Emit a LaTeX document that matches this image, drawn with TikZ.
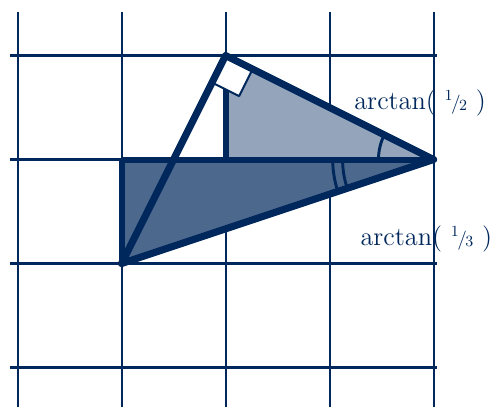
\documentclass[tikz,border=0pt]{standalone}
\usepackage{fontspec}
\usetikzlibrary{calc}
\definecolor{navy}{RGB}{0,40,92}
\newcommand{\myfrac}[2]{{\fontsize{8.5}{9}\selectfont\raisebox{5.2pt}{#1}}\kern-0.8pt{\fontsize{10.5}{11}\selectfont/}\kern-0.8pt{\fontsize{8.5}{9}\selectfont\raisebox{-0.3pt}{#2}}}
\begin{document}
\begin{tikzpicture}[x=2cm,y=2cm, line join=round,
  gridline/.style={navy, line width=1.15pt},
  edge/.style={navy, line width=3.9pt},
  inner/.style={navy, line width=3.3pt},
  anglearc/.style={navy, line width=1.6pt},
  marker/.style={fill=white, draw=navy, line width=1.1pt},
  lbl/.style={text=navy, font=\fontsize{14.4}{17}\selectfont, inner sep=0pt}]
\useasboundingbox (-0.169,-0.370) rectangle (4.552,3.534);
% grid
\foreach \i in {0,...,4} \draw[gridline] (\i,-0.5) -- (\i,3.418);
\foreach \j in {0,...,3} \draw[gridline] (-0.073,\j) -- (4.033,\j);
% points
\coordinate (A) at (1,1);
\coordinate (B) at (1,2);
\coordinate (C) at (2,2);
\coordinate (P) at (2,3);
\coordinate (R) at (4,2);
% fills
\fill[navy!70] (A) -- (B) -- (R) -- cycle;
\fill[navy!42] (C) -- (P) -- (R) -- cycle;
% inner lines
\draw[inner] (A) -- (B);
\draw[inner] (B) -- (R);
\draw[inner] (C) -- (P);
% right-angle marker
\coordinate (Q1) at ($(P)!0.1300!(R)$);
\coordinate (Q2) at ($(P)!0.1300!(A)$);
\coordinate (Q3) at ($(Q1)+(Q2)-(P)$);
\draw[marker] (P) -- (Q1) -- (Q3) -- (Q2) -- cycle;
% triangle edges
\draw[edge] (A) -- (P) -- (R) -- cycle;
% angle arcs
\draw[anglearc] ($(R)+(-0.53,0)$) arc[start angle=180, end angle=153.43, radius=0.53];
\draw[anglearc] ($(R)+(-0.875,0)$) arc[start angle=180, end angle=198.43, radius=0.875];
\draw[anglearc] ($(R)+(-0.97,0)$) arc[start angle=180, end angle=198.43, radius=0.97];
% labels
\node[lbl] (l1) at (3.87,2.543) {arctan( \myfrac{1}{2} )};
\node[lbl] (l2) at (3.93,1.236) {arctan( \myfrac{1}{3} )};
\end{tikzpicture}
\end{document}
